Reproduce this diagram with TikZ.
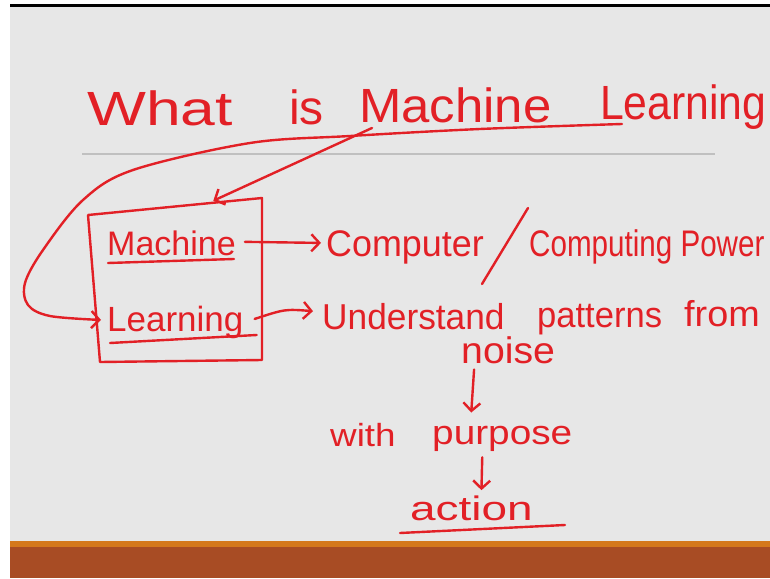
\documentclass[tikz,border=0pt]{standalone}
\usepackage{fontspec}
\setmainfont{Liberation Sans}
\usepackage{graphicx}
\usetikzlibrary{arrows.meta,calc}

\definecolor{pen}{RGB}{226,32,38}
\definecolor{slide}{RGB}{231,231,231}
\definecolor{rulegray}{RGB}{192,192,192}
\definecolor{band}{RGB}{212,120,28}
\definecolor{footer}{RGB}{168,76,36}

\newcommand\fs[1]{\fontsize{#1}{#1}\selectfont}
\newcommand\wide[2]{\scalebox{#1}[1]{#2}}

\tikzset{
  hw/.style={text=pen, inner sep=0pt, anchor=base west},
  ink/.style={draw=pen, line width=2.4pt, line cap=round, line join=round},
  arr/.style={ink, -{Straight Barb[length=8pt, width=17pt, line width=2.4pt]}},
}

\begin{document}
\begin{tikzpicture}[x=1pt, y=-1pt]
\useasboundingbox (0,0) rectangle (770,578);

% slide background, top edge and footer bands
\fill[white] (0,0) rectangle (770,578);
\fill[slide] (10,7) rectangle (770,541);
\fill[black] (10,4.5) rectangle (770,7.5);
\fill[band] (10,541) rectangle (770,547);
\fill[footer] (10,547) rectangle (770,578);

% ruled line under the heading
\draw[rulegray, line width=1.3pt] (82,154) -- (715,154);

% heading
\node[hw, font=\fs{48}] (tWhat) at (87,125) {\wide{1.3}{What}};
\node[hw, font=\fs{48}] (tIs) at (289,124) {is};
\node[hw, font=\fs{48}] (tMachine) at (359,122) {\wide{1.06}{Machine}};
\node[hw, font=\fs{48}] (tLearning) at (600,119) {\wide{0.89}{Learning}};

% the two words in the box
\node[hw, font=\fs{34}] (mach) at (107,255) {Machine};
\node[hw, font=\fs{35}] (learn) at (107,331) {Learning};

% right-hand explanations
\node[hw, font=\fs{37}] (comp) at (326,256) {\wide{0.97}{Computer}};
\node[hw, font=\fs{37}] (power) at (529,256) {\wide{0.8}{Computing Power}};
\node[hw, font=\fs{36}] (und) at (322,329) {\wide{0.98}{Understand}};
\node[hw, font=\fs{36}] (patt) at (537,327) {\wide{0.96}{patterns}};
\node[hw, font=\fs{36}] (from) at (684,326) {\wide{1.05}{from}};
\node[hw, font=\fs{37}] (noise) at (461,363) {\wide{1.06}{noise}};
\node[hw, font=\fs{32}] (with) at (330,446) {\wide{1.15}{with}};
\node[hw, font=\fs{34}] (purp) at (432,444) {\wide{1.14}{purpose}};
\node[hw, font=\fs{34}] (act) at (410,520) {\wide{1.35}{action}};

% box around the two words
\coordinate (bTL) at (88,215);
\coordinate (bTR) at (262,198);
\coordinate (bBR) at (262,360);
\coordinate (bBL) at (100,362);
\draw[ink] (bTL) -- (bTR) -- (bBR) -- (bBL) -- cycle;

% underlines
\draw[ink] ($(mach.base west)+(1,8)$) -- ($(mach.base east)+(-2,4)$);
\draw[ink] ($(learn.base west)+(3,12)$) -- ($(learn.base east)+(13,4)$);
\draw[ink] ($(act.base west)+(-10,13)$) -- ($(act.base east)+(32,5)$);

% slash between the two readings of "Machine"
\coordinate (slashB) at (482,284);
\coordinate (slashT) at (528,208);
\draw[ink] (slashB) -- (slashT);

% heading points to the box
\coordinate (headFoot) at (372,128);
\draw[arr] (headFoot) -- ($(bTL)!0.72!(bTR)+(0,-2)$);

% underline of "Machine Learning" sweeping round into "Learning"
\draw[arr] plot[smooth, tension=0.55] coordinates {
  ($(tLearning.base west)+(22,5)$) (480,129) (350,136) (250,143) (133,170)
  (83,200) (43,250) (25,283) (28,305) (50,316) ($(learn.west)+(-6,-2)$)};

% arrows to the explanations
\draw[arr] ($(mach.east)+(9,-1)$) -- ($(comp.west)+(-5,-4)$);
\draw[arr] ($(learn.east)+(11,-3)$) .. controls (285,309) .. ($(und.west)+(-9,-5)$);
\draw[arr] ($(noise.south)+(-34,6)$) -- ($(purp.north)+(-31,-13)$);
\draw[arr] ($(purp.south)+(-20,6)$) -- ($(act.north)+(10,-5)$);
\end{tikzpicture}
\end{document}
